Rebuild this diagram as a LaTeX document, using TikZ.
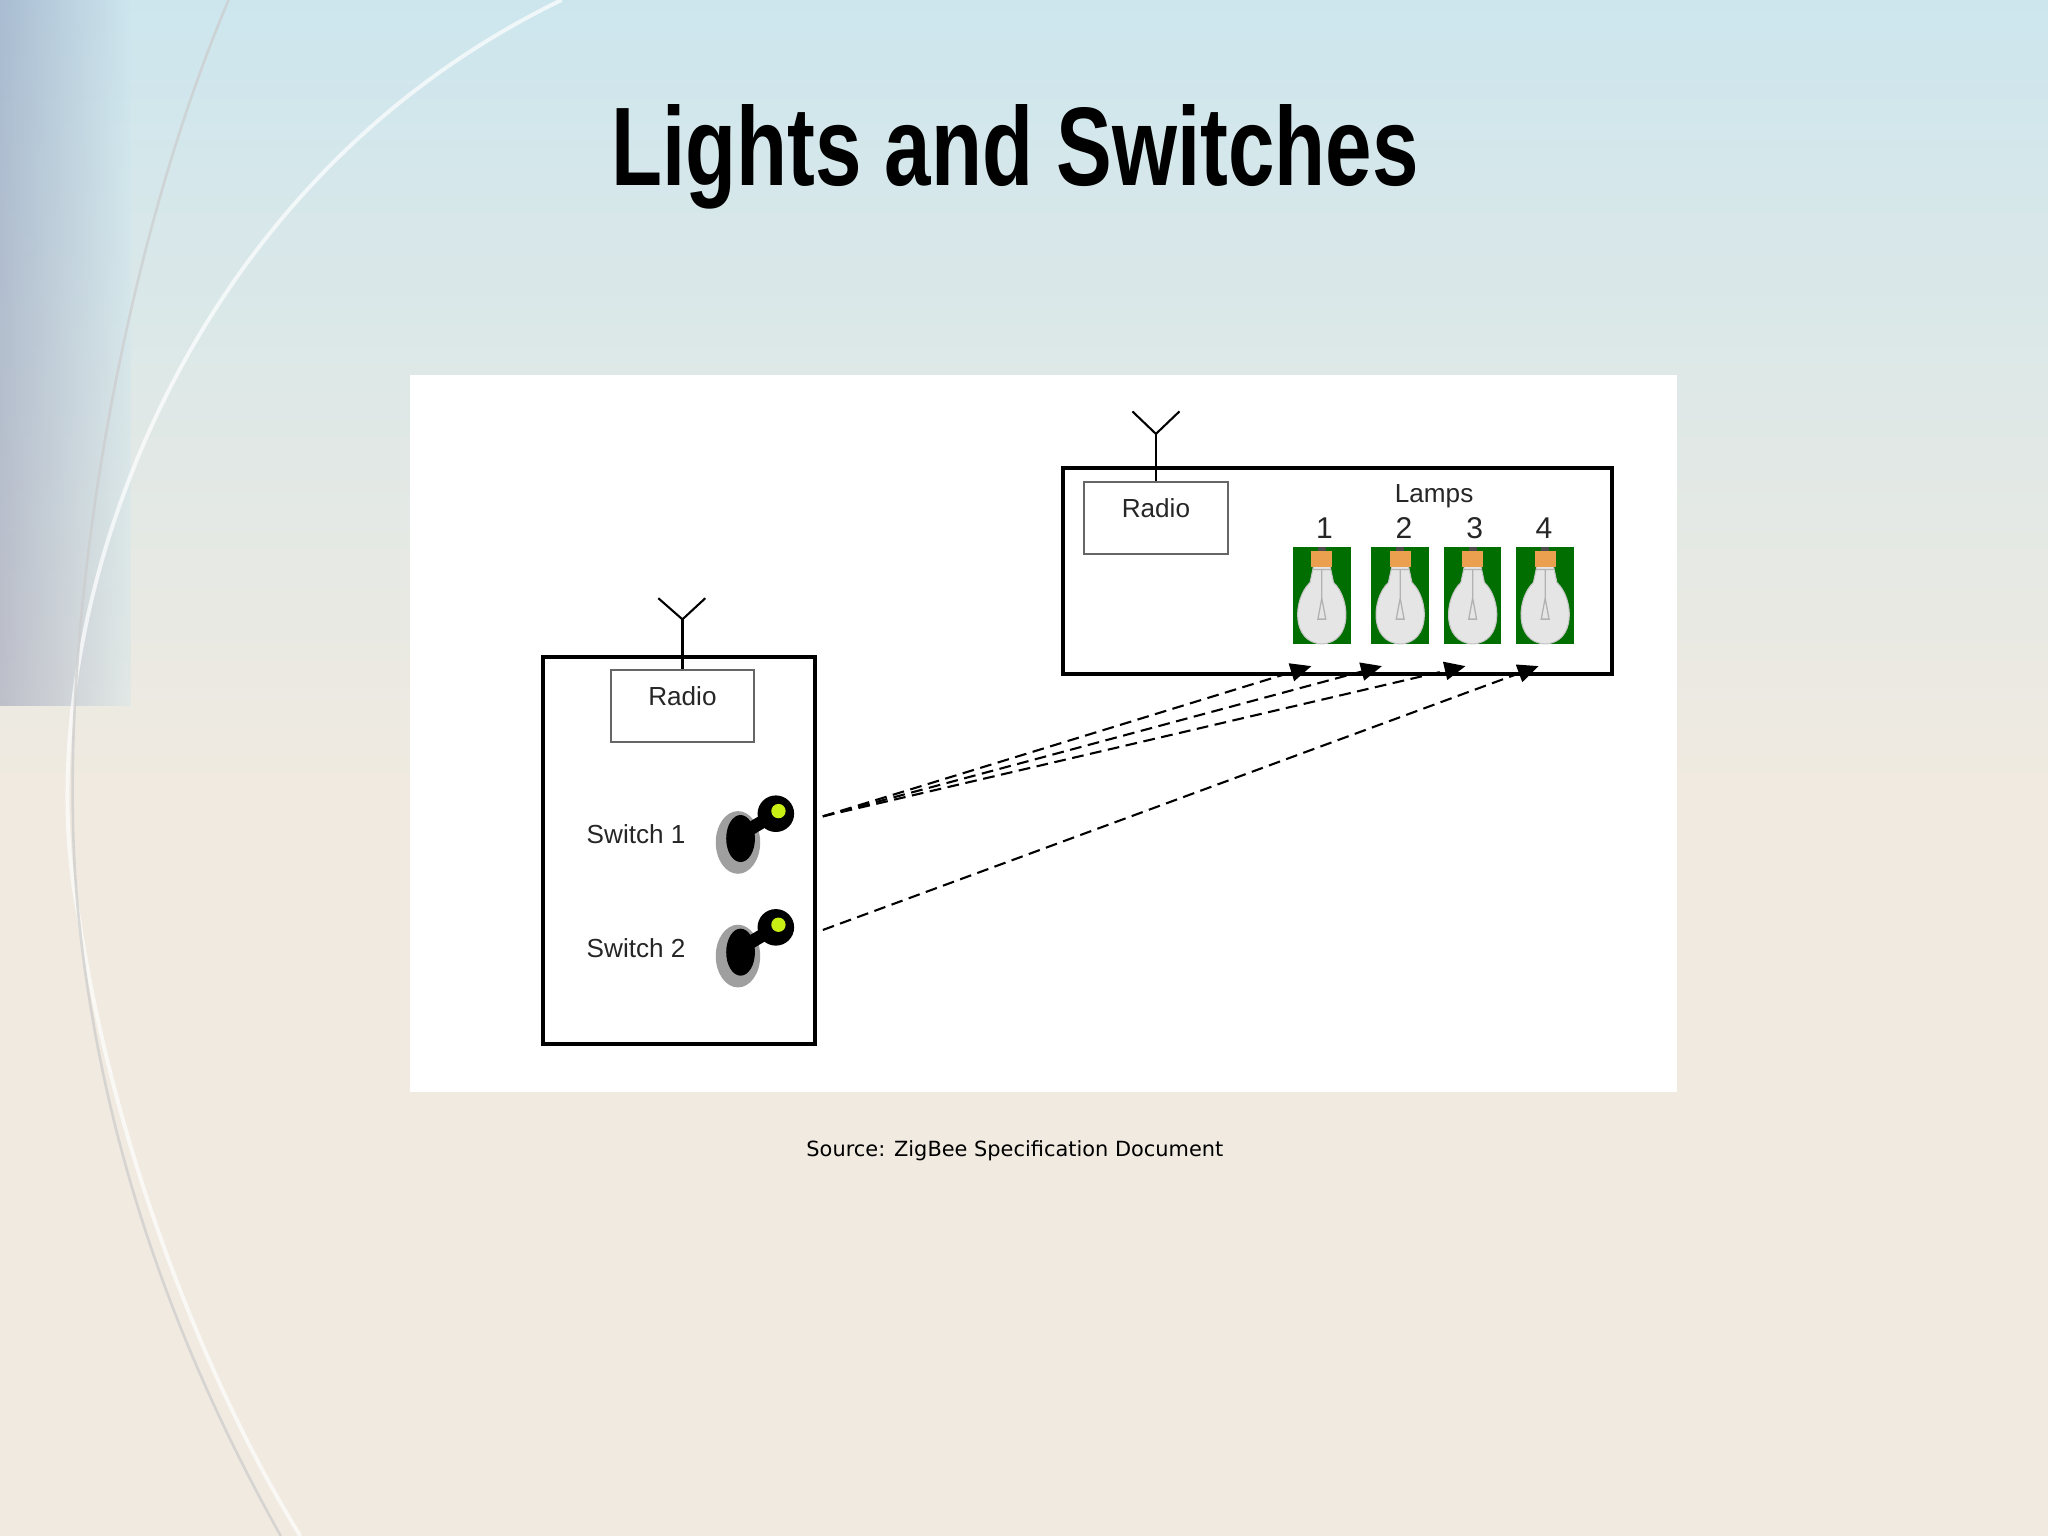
\documentclass[tikz,border=0pt]{standalone}
\usepackage{fontspec}
\setmainfont{Liberation Sans}
\newfontfamily\srcfont{DejaVu Sans}
\usetikzlibrary{arrows.meta}
\definecolor{bgbeige}{RGB}{240,234,224}
\definecolor{bgblue}{RGB}{205,230,238}
\definecolor{lampgreen}{RGB}{0,110,0}
\definecolor{capor}{RGB}{235,160,80}
\definecolor{swgreen}{RGB}{200,240,20}
\tikzset{
  box/.style={draw=black,line width=1.5pt},
  radiobox/.style={draw=gray!80!black,line width=0.8pt,fill=white},
  lbl/.style={font=\fontsize{10}{12}\selectfont,text=black!85},
  link/.style={dash pattern=on 4.5pt off 2.5pt,line width=0.8pt,-{Triangle[length=8pt,width=7pt]}},
}
\newcommand{\mybulb}[3]{%
  \fill[lampgreen] (#2-22,#3-37) rectangle (#2+22,#3+37);
  \coordinate (#1) at (#2,#3);
  \fill[gray!20,draw=gray!45,line width=0.4pt] (#2-6,#3-24) -- (#2+6,#3-24) -- (#2+9,#3-10)
     .. controls (#2+22,#3+2) and (#2+24,#3+36) .. (#2,#3+37)
     .. controls (#2-24,#3+36) and (#2-22,#3+2) .. (#2-9,#3-10) -- cycle;
  \fill[capor] (#2-8,#3-34) rectangle (#2+8,#3-22);
  \fill[black!70] (#2-3,#3-37) rectangle (#2+3,#3-34);
  \draw[gray!60,line width=0.5pt] (#2,#3-20) -- (#2,#3+2) (#2-3,#3+18) -- (#2,#3+2) -- (#2+3,#3+18) -- cycle (#2-7,#3-20)--(#2+7,#3-20);
}
\newcommand{\myswitch}[3]{%
  \fill[gray!75] (#2,#3) ellipse [x radius=17,y radius=24];
  \fill[black] (#2+2,#3-3) ellipse [x radius=11,y radius=18];
  \draw[black,line width=5pt] (#2+2,#3-6) -- (#2+29,#3-22);
  \fill[black] (#2+29,#3-22) circle (14);
  \fill[swgreen] (#2+31,#3-24) circle (5.5);
  \coordinate (#1) at (#2+29,#3-22);
}
\begin{document}
\begin{tikzpicture}[x=0.5pt,y=-0.5pt]
\useasboundingbox (0,0) rectangle (1568,1176);
% background
\fill[bgbeige] (0,0) rectangle (1568,1176);
\shade[top color=bgblue, bottom color=bgbeige] (0,0) rectangle (1568,600);
\shade[left color=bgblue!70!blue!60!black!90, right color=bgblue, opacity=0.35] (0,0) rectangle (100,540);
\draw[white,line width=1.5pt,opacity=0.7] (430,0) .. controls (120,150) and (20,500) .. (60,700) .. controls (90,900) and (170,1080) .. (230,1176);
\draw[gray!40,line width=1pt,opacity=0.7] (175,0) .. controls (90,200) and (40,500) .. (60,700) .. controls (80,900) and (150,1060) .. (215,1176);
% title
\node[font=\bfseries] (title) at (777,120) {\resizebox{309pt}{31pt}{Lights and Switches}};
% panel
\fill[white] (314,287) rectangle (1284,836);
% switch unit
\draw[box] (416,503) rectangle (624,799);
\node[radiobox,minimum width=54.5pt,minimum height=27.5pt] (r1) at (522.5,540.5) {};
\node[lbl] at (522.5,533) {Radio};
\draw[line width=0.8pt] (r1.north) -- ++(0,-38) coordinate (a1);
\draw[line width=0.8pt] (504,458) -- (a1) -- (540,458);
\node[lbl] (s1l) at (487,639) {Switch 1};
\node[lbl] (s2l) at (487,726) {Switch 2};
\myswitch{sw1}{565}{645}
\myswitch{sw2}{565}{732}
% lamp unit
\draw[box] (814,358) rectangle (1234,516);
\node[radiobox,minimum width=55pt,minimum height=27.5pt] (r2) at (885,396.5) {};
\node[lbl] at (885,389) {Radio};
\draw[line width=0.8pt] (r2.north) -- ++(0,-36) coordinate (a2);
\draw[line width=0.8pt] (867,315) -- (a2) -- (903,315);
\node[lbl] (lamps) at (1098,380) {Lamps};
\node[lbl,font=\fontsize{11.5}{13}\selectfont] at (1014,404) {1};
\node[lbl,font=\fontsize{11.5}{13}\selectfont] at (1075,404) {2};
\node[lbl,font=\fontsize{11.5}{13}\selectfont] at (1129,404) {3};
\node[lbl,font=\fontsize{11.5}{13}\selectfont] at (1182,404) {4};
\mybulb{l1}{1012}{456}
\mybulb{l2}{1072}{456}
\mybulb{l3}{1127.5}{456}
\mybulb{l4}{1183}{456}
% links
\coordinate (o1) at (630,625);
\coordinate (o2) at (630,712);
\coordinate (t1) at (1004,510);
\coordinate (t2) at (1058,510);
\coordinate (t3) at (1122,510);
\coordinate (t4) at (1178,510);
\draw[link] (o1) -- (t1);
\draw[link] (o1) -- (t2);
\draw[link] (o1) -- (t3);
\draw[link] (o2) -- (t4);
% source
\node[font=\srcfont\fontsize{8}{10}\selectfont] (src) at (777,881) {Source: ZigBee Specification Document};
\end{tikzpicture}
\end{document}
